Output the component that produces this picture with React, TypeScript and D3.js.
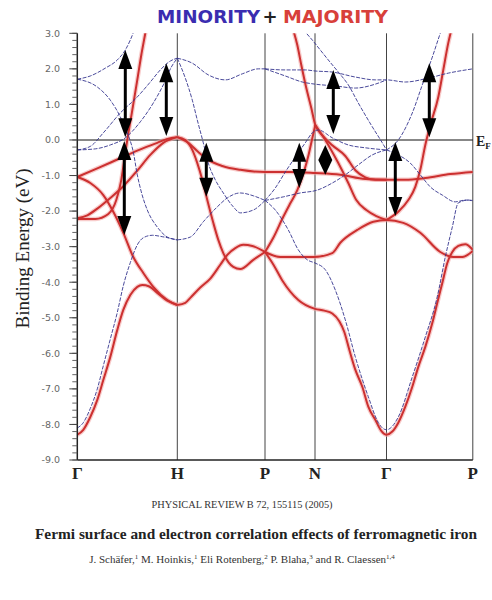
import React from "react";
import * as d3 from "d3";

// symmetry points along the k path
const kLabels = ["Γ", "H", "P", "N", "Γ", "P"];
const kPoints = [0, 1, 1.877, 2.377, 3.092, 3.955];
const eTicks = [3, 2, 1, 0, -1, -2, -3, -4, -5, -6, -7, -8, -9];

// majority bands, [k, E (eV)]
const majS = [[0,-8.29],[0.06,-8.15],[0.13,-7.79],[0.2,-7.31],[0.26,-6.75],[0.33,-6.1],[0.4,-5.34],[0.46,-4.78],[0.53,-4.36],[0.6,-4.13],[0.65,-4.08],[0.72,-4.12],[0.8,-4.3],[0.9,-4.52],[1,-4.64]];
const majB = [[0,-1.04],[0.13,-1.21],[0.26,-1.55],[0.36,-2.02],[0.46,-2.61],[0.56,-3.29],[0.66,-3.74],[0.76,-4.13],[0.9,-4.5],[1,-4.64]];
const majC = [[0,-1.04],[0.2,-0.8],[0.4,-0.55],[0.6,-0.3],[0.8,-0.08],[0.9,0.03],[1,0.08]];
const majD = [[0,-2.2],[0.1,-2.12],[0.2,-1.93],[0.33,-1.63],[0.46,-1.3],[0.6,-0.86],[0.73,-0.42],[0.86,-0.08],[1,0.08]];
const majE = [[0,-2.22],[0.18,-2.22],[0.31,-2.08],[0.39,-1.69],[0.44,-1.12],[0.47,-0.56],[0.5,0],[0.55,0.84],[0.6,1.69],[0.64,2.39],[0.68,3.0],[0.7,3.32]];
const majF = [[1,0.08],[1.08,0],[1.15,-0.28],[1.2,-0.65],[1.25,-1.12],[1.3,-1.69],[1.36,-2.33],[1.41,-2.81],[1.46,-3.18],[1.56,-3.57],[1.63,-3.63],[1.76,-3.37],[1.877,-3.15]];
const majG = [[1,0.08],[1.11,-0.08],[1.21,-0.34],[1.31,-0.56],[1.45,-0.73],[1.63,-0.84],[1.877,-0.9],[2.13,-0.9],[2.377,-0.93],[2.63,-0.98],[2.88,-1.1],[3.092,-1.12],[3.28,-1.12],[3.48,-1.07],[3.73,-0.96],[3.955,-0.9]];
const majH = [[1,-4.64],[1.08,-4.58],[1.13,-4.44],[1.23,-4.15],[1.33,-3.9],[1.43,-3.51],[1.5,-3.23],[1.58,-3.04],[1.66,-2.95],[1.75,-2.98],[1.877,-3.15]];
const majI = [[1.877,-3.15],[1.96,-3.5],[2.05,-3.95],[2.21,-4.5],[2.377,-4.75],[2.47,-4.8],[2.55,-4.88],[2.62,-5.1],[2.67,-5.4],[2.72,-5.9],[2.78,-6.46],[2.85,-6.94],[2.91,-7.5],[2.98,-7.87],[3.04,-8.18],[3.092,-8.29],[3.15,-8.2],[3.21,-7.95],[3.28,-7.5],[3.35,-6.94],[3.41,-6.38],[3.48,-5.82],[3.55,-5.15],[3.6,-4.58],[3.65,-4.02],[3.7,-3.46],[3.75,-3.15],[3.81,-2.98],[3.88,-2.93],[3.955,-3.09]];
const majJ = [[1.877,-3.15],[1.96,-2.75],[2.06,-2.16],[2.13,-1.78],[2.2,-1.41],[2.26,-0.95],[2.31,-0.45],[2.35,0.05],[2.38,0.42]];
const majK = [[2.16,3.09],[2.2,2.67],[2.24,2.11],[2.29,1.46],[2.34,0.9],[2.38,0.42],[2.46,0.1],[2.55,-0.15],[2.68,-0.45],[2.78,-0.85],[2.88,-1.05],[2.98,-1.12],[3.092,-1.12]];
const majL = [[2.38,0.42],[2.48,0],[2.61,-0.65],[2.71,-1.21],[2.79,-1.69],[2.89,-1.97],[2.99,-2.14],[3.092,-2.25]];
const majM = [[1.877,-3.15],[2.03,-3.29],[2.13,-3.29],[2.36,-3.29],[2.55,-3.18],[2.63,-2.89],[2.8,-2.53],[2.96,-2.3],[3.092,-2.25],[3.26,-2.33],[3.43,-2.61],[3.63,-3.15],[3.76,-3.29],[3.85,-3.29],[3.955,-3.12]];
const majN = [[3.092,-2.25],[3.21,-2.02],[3.31,-1.69],[3.38,-1.32],[3.43,-0.84],[3.48,-0.14],[3.53,0.42],[3.61,1.21],[3.66,1.97],[3.71,2.73],[3.74,3.09]];

// minority bands
const minS = [[0,-8.1],[0.06,-7.95],[0.13,-7.55],[0.2,-7.0],[0.26,-6.35],[0.33,-5.6],[0.4,-4.85],[0.46,-4.1],[0.53,-3.45],[0.6,-2.95],[0.66,-2.75],[0.75,-2.68],[0.85,-2.72],[1,-2.81]];
const minS2 = [[1,-2.81],[1.13,-2.73],[1.26,-2.3],[1.4,-1.88],[1.5,-1.63],[1.63,-1.49],[1.76,-1.57],[1.877,-1.7]];
const minS3 = [[1.877,-1.7],[1.98,-1.97],[2.11,-2.53],[2.21,-3.09],[2.3,-3.37],[2.377,-3.46],[2.48,-3.65],[2.58,-4.22],[2.68,-5.06],[2.78,-6.1],[2.91,-7.22],[3.01,-7.95],[3.092,-8.15],[3.21,-7.79],[3.35,-6.66],[3.48,-5.54],[3.6,-4.41],[3.68,-3.29],[3.75,-2.45],[3.81,-1.77],[3.91,-1.69],[3.955,-1.72]];
const minB = [[0,1.71],[0.2,1.49],[0.33,1.12],[0.43,0.65],[0.5,0.2],[0.56,-0.34],[0.6,-0.98],[0.64,-1.46],[0.7,-1.97],[0.8,-2.45],[0.9,-2.73],[1,-2.81]];
const minC = [[0,1.71],[0.13,1.8],[0.28,2.02],[0.4,2.25],[0.48,2.53],[0.53,2.81],[0.57,3.09]];
const minD1 = [[0,-0.28],[0.13,-0.18],[0.26,0.2],[0.43,0.76],[0.6,1.21],[0.73,1.63],[0.83,1.97],[0.93,2.22],[1,2.3]];
const minD2 = [[0,-0.28],[0.18,-0.25],[0.33,-0.14],[0.48,0.06],[0.63,0.51],[0.76,1.04],[0.86,1.55],[0.94,2.05],[1,2.3]];
const minE = [[1,2.3],[1.15,2.16],[1.31,1.83],[1.48,1.69],[1.65,1.86],[1.81,2.0],[1.877,2.0]];
const minF = [[1,2.3],[1.08,1.74],[1.15,1.12],[1.2,0.56],[1.26,-0.08],[1.31,-0.65],[1.38,-1.12],[1.46,-1.49],[1.56,-1.88],[1.63,-2.05],[1.76,-1.97],[1.877,-1.7]];
const minG = [[1.877,2.0],[2.08,1.97],[2.28,1.97],[2.377,1.94],[2.55,1.91],[2.78,1.77],[2.98,1.69],[3.092,1.69],[3.28,1.63],[3.51,1.74],[3.71,1.88],[3.955,2.0]];
const minH = [[1.877,2.0],[2.08,1.8],[2.25,1.63],[2.377,1.57],[2.58,1.52],[2.78,1.46],[2.98,1.57],[3.092,1.69]];
const minI = [[2.23,3.23],[2.28,3.04],[2.35,2.81],[2.43,2.53],[2.51,2.25],[2.61,1.91],[2.71,1.55],[2.81,1.04],[2.95,0.37],[3.05,-0.08],[3.092,-0.28]];
const minJ = [[3.092,-0.28],[3.21,0],[3.35,0.76],[3.45,1.55],[3.55,2.33],[3.63,3.0],[3.66,3.23]];
const minK = [[1.877,-1.7],[1.98,-1.35],[2.08,-0.9],[2.18,-0.48],[2.28,-0.08],[2.35,0.2],[2.41,0.28],[2.55,0.06],[2.71,-0.14],[2.88,-0.22],[3.092,-0.28]];
const minL = [[1.877,-1.7],[2.06,-1.6],[2.23,-1.49],[2.4,-1.41],[2.55,-1.21],[2.68,-0.98],[2.81,-0.7],[2.95,-0.42],[3.092,-0.28]];
const minM = [[3.092,-0.28],[3.21,-0.42],[3.33,-0.65],[3.43,-0.98],[3.53,-1.32],[3.65,-1.55],[3.78,-1.74],[3.88,-1.69],[3.955,-1.7]];

const majority = [majS, majB, majC, majD, majE, majF, majG, majH, majI, majJ, majK, majL, majM, majN];
const minority = [minS, minS2, minS3, minB, minC, minD1, minD2, minE, minF, minG, minH, minI, minJ, minK, minL, minM];

// double arrows: k, upper tip E, lower tip E
const arrowK = [0.48, 0.47, 0.89, 1.29, 2.22, 2.48, 2.56, 3.18, 3.52];
const arrowTop = [2.53, -0.03, 2.16, -0.08, -0.08, -0.14, 1.97, -0.06, 2.16];
const arrowBottom = [0.08, -2.67, 0.11, -1.6, -1.35, -0.98, 0.17, -2.14, 0.08];

export default function App() {
  const width = 492;
  const height = 600;
  const x = d3.scaleLinear().domain([0, 3.955]).range([77.3, 472.8]);
  const y = d3.scaleLinear().domain([-9, 3]).range([460, 33.3]);
  const line = d3
    .line<number[]>()
    .x((d) => x(d[0]))
    .y((d) => y(d[1]))
    .curve(d3.curveMonotoneX);
  const minorTicks = d3.range(-9, 3.001, 0.2);
  const serif = "'Liberation Serif', 'DejaVu Serif', serif";

  return (
    <svg
      width={width}
      height={height}
      style={{ position: "absolute", left: 0, top: 0, background: "#fff" }}
    >
      <defs>
        <clipPath id="plot">
          <rect x={x(0)} y={y(3)} width={x(3.955) - x(0)} height={y(-9) - y(3)} />
        </clipPath>
      </defs>
      <rect width={width} height={height} fill="#fff" />

      {/* title */}
      <g fontFamily="'DejaVu Sans', sans-serif" fontWeight="bold" fontSize={18}>
        <text x={157} y={23} fill="#3a2db0" textLength={103} lengthAdjust="spacingAndGlyphs">MINORITY</text>
        <text x={270} y={23} fill="#222" textAnchor="middle">+</text>
        <text x={283} y={23} fill="#d8403a" textLength={105} lengthAdjust="spacingAndGlyphs">MAJORITY</text>
      </g>

      {/* symmetry lines */}
      {kPoints.slice(1).map((k, i) => (
        <line key={"v" + i} x1={x(k)} x2={x(k)} y1={y(3)} y2={y(-9)} stroke="#444" strokeWidth={1} />
      ))}
      <line x1={x(0)} x2={x(3.955)} y1={y(0)} y2={y(0)} stroke="#111" strokeWidth={1.2} />

      {/* bands */}
      <g clipPath="url(#plot)" fill="none">
        {majority.map((b, i) => (
          <path key={"mg" + i} d={line(b) || ""} stroke="#f3a3a0" strokeWidth={4.5} strokeOpacity={0.55} />
        ))}
        {majority.map((b, i) => (
          <path key={"mj" + i} d={line(b) || ""} stroke="#cc3030" strokeWidth={2} />
        ))}
        {minority.map((b, i) => (
          <path key={"mn" + i} d={line(b) || ""} stroke="#35358f" strokeWidth={0.9} strokeDasharray="4,1.4" />
        ))}
      </g>

      {/* axes */}
      <line x1={x(0)} x2={x(0)} y1={y(3)} y2={y(-9)} stroke="#222" strokeWidth={1.5} />
      <line x1={x(0)} x2={x(3.955)} y1={y(-9)} y2={y(-9)} stroke="#222" strokeWidth={1.5} />
      {minorTicks.map((t, i) => (
        <line key={"mt" + i} x1={x(0) - 5} x2={x(0)} y1={y(t)} y2={y(t)} stroke="#555" strokeWidth={0.9} />
      ))}
      {eTicks.map((t) => (
        <g key={"t" + t}>
          <line x1={x(0) - 8} x2={x(0)} y1={y(t)} y2={y(t)} stroke="#444" strokeWidth={1} />
          <text
            x={60}
            y={y(t)}
            dy="0.35em"
            textAnchor="end"
            fontFamily="'DejaVu Sans', sans-serif"
            fontSize={9.5}
            fill="#666"
          >
            {t.toFixed(1)}
          </text>
        </g>
      ))}
      {kLabels.map((l, i) => (
        <text
          key={"k" + i}
          x={x(kPoints[i])}
          y={479}
          textAnchor="middle"
          fontFamily={serif}
          fontWeight="bold"
          fontSize={17}
          fill="#222"
        >
          {l}
        </text>
      ))}
      <text
        transform={`translate(29,${y(-3.05)}) rotate(-90)`}
        textAnchor="middle"
        fontFamily={serif}
        fontSize={19}
        fill="#222"
      >
        Binding Energy (eV)
      </text>
      <text x={476} y={146} fontFamily={serif} fontWeight="bold" fontSize={14} fill="#222">
        E<tspan fontSize={9} dy={3}>F</tspan>
      </text>

      {/* transition arrows */}
      {arrowK.map((k, i) => {
        const cx = x(k);
        const yt = y(arrowTop[i]);
        const yb = y(arrowBottom[i]);
        const head = Math.min(19, (yb - yt) / 2);
        const hw = 7;
        return (
          <g key={"a" + i} fill="#000">
            <line x1={cx} x2={cx} y1={yt + head - 1} y2={yb - head + 1} stroke="#000" strokeWidth={3} />
            <polygon points={`${cx},${yt} ${cx - hw},${yt + head} ${cx + hw},${yt + head}`} />
            <polygon points={`${cx},${yb} ${cx - hw},${yb - head} ${cx + hw},${yb - head}`} />
          </g>
        );
      })}

      {/* citation */}
      <text x={242} y={508} textAnchor="middle" fontFamily={serif} fontSize={11} fill="#333" textLength={181} lengthAdjust="spacingAndGlyphs">
        PHYSICAL REVIEW B 72, 155115 (2005)
      </text>
      <text x={256} y={539} textAnchor="middle" fontFamily={serif} fontWeight="bold" fontSize={15} fill="#222" textLength={442} lengthAdjust="spacingAndGlyphs">
        Fermi surface and electron correlation effects of ferromagnetic iron
      </text>
      <text x={242} y={563} textAnchor="middle" fontFamily={serif} fontSize={11} fill="#333">
        J. Schäfer,<tspan fontSize={7} dy={-4}>1</tspan>
        <tspan dy={4}> M. Hoinkis,</tspan>
        <tspan fontSize={7} dy={-4}>1</tspan>
        <tspan dy={4}> Eli Rotenberg,</tspan>
        <tspan fontSize={7} dy={-4}>2</tspan>
        <tspan dy={4}> P. Blaha,</tspan>
        <tspan fontSize={7} dy={-4}>3</tspan>
        <tspan dy={4}> and R. Claessen</tspan>
        <tspan fontSize={7} dy={-4}>1,4</tspan>
      </text>
    </svg>
  );
}
